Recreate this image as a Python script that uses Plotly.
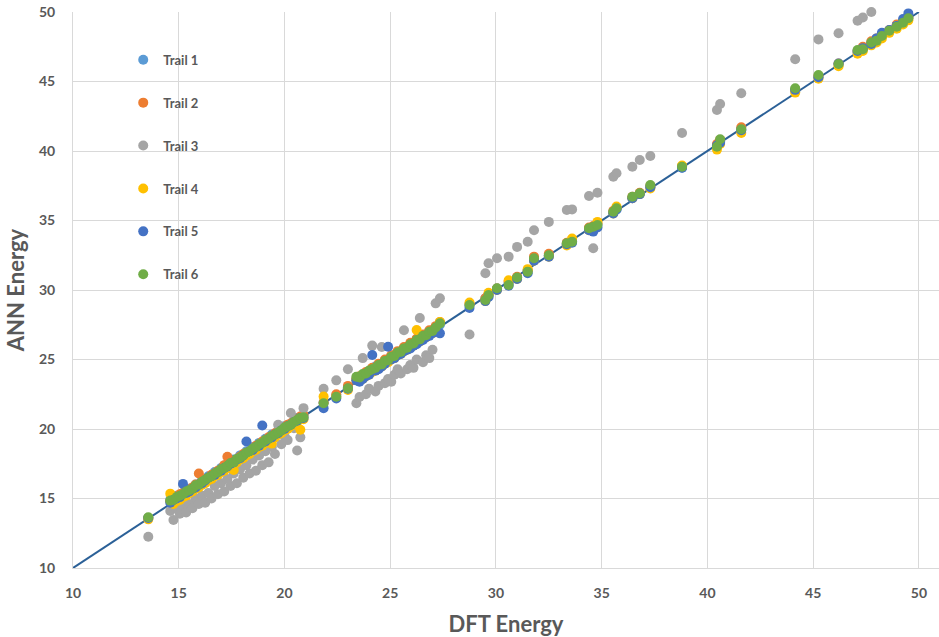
import plotly.graph_objects as go

# DFT reference energies (shared test set for all trails)
dft = [
    13.56, 14.60, 14.75, 14.90, 15.05, 15.20, 15.35, 15.50, 15.65, 15.80, 15.95,
    16.10, 16.25, 16.40, 16.55, 16.70, 16.85, 17.00, 17.15, 17.30, 17.45, 17.60,
    17.75, 17.90, 18.05, 18.20, 18.35, 18.50, 18.65, 18.80, 18.95, 19.10, 19.25,
    19.40, 19.55, 19.70, 19.85, 20.00, 20.15, 20.30, 20.45, 20.60, 20.75, 20.90,
    21.85, 22.45, 23.00, 23.40, 23.55, 23.70, 23.85, 24.00, 24.15, 24.30, 24.45,
    24.60, 24.75, 24.90, 25.05, 25.20, 25.35, 25.50, 25.65, 25.80, 25.95, 26.10,
    26.25, 26.40, 26.55, 26.70, 26.85, 27.00, 27.15, 27.35,
    28.75, 29.50, 29.65, 30.05, 30.60, 31.00, 31.50, 31.80, 32.50, 33.35, 33.60,
    34.40, 34.60, 34.80, 35.55, 35.70, 36.45, 36.80, 37.30, 38.80,
    40.45, 40.60, 41.60, 44.15, 45.25, 46.20, 47.10, 47.35, 47.75, 48.00, 48.25,
    48.60, 48.95, 49.25, 49.50,
]

# ANN predicted energies, one list per training trail
trail_1 = [
    13.6, 14.9, 14.8, 15.2, 15.1, 15.4, 15.4, 15.7, 15.6, 16.0, 15.9,
    16.3, 16.2, 16.6, 16.5, 16.9, 16.8, 17.2, 17.1, 17.5, 17.4, 17.8,
    17.7, 18.1, 18.0, 18.4, 18.3, 18.7, 18.6, 19.0, 18.9, 19.3, 19.2,
    19.6, 19.5, 19.9, 19.8, 20.2, 20.1, 20.4, 20.4, 20.8, 20.7, 21.0,
    21.9, 22.4, 23.0, 23.6, 23.6, 23.8, 24.0, 24.1, 24.2, 24.5, 24.5,
    24.7, 24.8, 25.0, 25.1, 25.3, 25.4, 25.6, 25.7, 25.9, 26.0, 26.2,
    26.3, 26.5, 26.6, 26.8, 26.9, 27.1, 27.2, 27.5,
    28.9, 29.4, 29.6, 30.1, 30.5, 30.9, 31.4, 32.2, 32.5, 33.3, 33.5,
    34.4, 34.5, 34.7, 35.6, 35.8, 36.6, 36.9, 37.4, 38.8,
    40.4, 40.7, 41.6, 44.3, 45.3, 46.2, 47.1, 47.4, 47.8, 48.0, 48.3,
    48.6, 49.0, 49.3, 49.6,
]
trail_2 = [
    13.6, 14.8, 15.0, 15.0, 15.3, 15.4, 15.5, 15.6, 15.8, 16.0, 16.8,
    16.2, 16.4, 16.4, 16.7, 16.8, 17.0, 17.1, 17.4, 18.0, 17.5, 17.7,
    17.8, 18.0, 18.2, 18.3, 18.4, 18.5, 18.8, 18.9, 19.1, 19.2, 19.4,
    19.5, 19.7, 19.8, 19.9, 20.1, 20.3, 20.4, 20.6, 20.7, 20.9, 21.0,
    21.9, 22.5, 23.1, 23.6, 23.8, 23.8, 24.1, 24.1, 24.4, 24.4, 24.7,
    24.7, 25.0, 25.0, 25.3, 25.3, 25.6, 25.5, 25.9, 25.9, 26.2, 26.2,
    26.5, 26.5, 26.8, 26.8, 27.1, 27.1, 27.4, 27.7,
    29.0, 29.4, 29.7, 30.1, 30.6, 30.95, 31.4, 32.4, 32.6, 33.4, 33.6,
    34.5, 34.6, 34.8, 35.7, 35.9, 36.7, 37.0, 37.5, 38.9,
    40.5, 40.8, 41.7, 44.4, 45.4, 46.3, 47.2, 47.5, 47.9, 48.1, 48.4,
    48.7, 49.1, 49.3, 49.6,
]
trail_3 = [
    12.25, 14.1, 13.45, 14.3, 13.9, 14.5, 14.0, 14.6, 14.3, 15.0, 14.6,
    15.2, 14.7, 15.4, 15.0, 15.9, 15.3, 16.1, 15.5, 16.4, 15.9, 16.8,
    16.1, 17.1, 16.5, 17.4, 16.8, 17.8, 17.0, 18.1, 17.4, 18.4, 17.6,
    18.7, 18.2, 20.3, 18.9, 19.5, 19.2, 21.15, 20.05, 18.45, 19.4, 21.5,
    22.9, 23.5, 24.3, 21.85, 22.3, 25.1, 22.5, 22.9, 26.0, 22.7, 23.1,
    25.9, 23.3, 23.6, 23.4, 23.9, 24.3, 24.0, 27.1, 24.3, 24.6, 24.4,
    25.0, 27.99, 24.8, 25.3, 25.1, 25.7, 29.04, 29.4,
    26.8, 31.2, 31.92, 32.28, 32.4, 33.1, 33.47, 34.3, 34.9, 35.75, 35.8,
    36.76, 33.0, 37.0, 38.15, 38.4, 38.87, 39.35, 39.64, 41.3,
    42.95, 43.38, 44.15, 46.6, 48.03, 48.47, 49.37, 49.6, 50.0, 48.1, 48.3,
    48.6, 49.0, 49.2, 49.5,
]
trail_4 = [
    13.5, 15.35, 14.6, 14.8, 14.9, 15.1, 15.2, 15.4, 15.5, 15.7, 15.8,
    16.0, 16.1, 16.3, 16.4, 16.6, 16.7, 16.9, 17.0, 17.2, 17.3, 17.05,
    17.6, 17.8, 17.9, 18.1, 18.2, 18.4, 18.5, 18.7, 18.8, 19.0, 19.1,
    18.95, 19.4, 19.6, 19.7, 19.9, 20.0, 20.2, 20.3, 20.5, 19.95, 20.7,
    22.33, 22.3, 22.8, 23.5, 23.5, 23.6, 23.8, 23.9, 24.1, 24.2, 24.4,
    24.5, 24.7, 24.8, 25.0, 25.1, 25.3, 25.4, 25.6, 25.7, 25.9, 26.0,
    27.12, 26.3, 26.5, 26.6, 26.8, 26.9, 27.1, 27.7,
    29.1, 29.2, 29.8, 30.0, 30.7, 30.8, 31.5, 32.1, 32.4, 33.2, 33.7,
    34.3, 34.5, 34.9, 35.5, 36.0, 36.6, 36.9, 37.3, 38.95,
    40.1, 40.5, 41.3, 44.2, 45.2, 46.1, 47.0, 47.2, 47.6, 47.8, 48.1,
    48.5, 48.8, 49.1, 49.4,
]
trail_5 = [
    13.6, 14.7, 14.9, 15.0, 15.1, 16.05, 15.4, 15.5, 15.7, 15.8, 16.0,
    16.1, 16.3, 16.5, 16.6, 16.7, 16.9, 17.0, 17.2, 17.3, 17.5, 17.6,
    17.8, 17.9, 18.1, 19.1, 18.4, 18.5, 18.7, 18.8, 20.25, 19.1, 19.3,
    19.4, 19.6, 19.7, 19.9, 20.0, 20.2, 20.3, 20.5, 20.6, 20.8, 20.8,
    21.5, 22.2, 22.9, 23.5, 23.4, 23.6, 23.8, 23.9, 25.32, 24.2, 24.3,
    24.5, 24.7, 25.92, 25.0, 25.1, 25.3, 25.4, 25.6, 25.7, 25.8, 26.0,
    26.1, 26.3, 26.4, 26.6, 26.7, 26.9, 27.0, 26.88,
    28.7, 29.2, 29.5, 30.0, 30.3, 30.8, 31.2, 32.1, 32.4, 33.3, 33.4,
    34.3, 34.2, 34.5, 35.5, 35.8, 36.6, 36.9, 37.4, 38.8,
    40.4, 40.6, 41.5, 44.4, 45.3, 46.3, 47.2, 47.4, 47.7, 48.1, 48.5,
    48.7, 49.0, 49.5, 49.9,
]
trail_6 = [
    13.65, 14.85, 14.9, 15.1, 15.2, 15.3, 15.5, 15.6, 15.7, 15.95, 16.0,
    16.2, 16.35, 16.5, 16.6, 16.8, 16.9, 17.1, 17.2, 17.35, 17.55, 17.6,
    17.85, 17.95, 18.1, 18.3, 18.4, 18.6, 18.7, 18.9, 19.0, 19.2, 19.3,
    19.5, 19.6, 19.75, 19.9, 20.1, 20.2, 20.3, 20.5, 20.65, 20.8, 20.85,
    21.85, 22.32, 22.93, 23.76, 23.7, 23.95, 24.0, 24.2, 24.3, 24.4, 24.6,
    24.65, 24.9, 24.95, 25.2, 25.25, 25.5, 25.55, 25.8, 25.85, 26.1, 26.15,
    26.4, 26.45, 26.7, 26.75, 27.0, 27.05, 27.3, 27.6,
    28.92, 29.28, 29.64, 30.12, 30.36, 30.9, 31.32, 32.28, 32.5, 33.36, 33.47,
    34.44, 34.55, 34.68, 35.63, 35.88, 36.71, 36.96, 37.55, 38.87,
    40.31, 40.84, 41.56, 44.51, 45.47, 46.26, 47.27, 47.32, 47.8, 47.94, 48.27,
    48.65, 48.94, 49.23, 49.55,
]

trail_names = ["Trail 1", "Trail 2", "Trail 3", "Trail 4", "Trail 5", "Trail 6"]
trail_values = [trail_1, trail_2, trail_3, trail_4, trail_5, trail_6]
trail_colors = ["#5B9BD5", "#ED7D31", "#A5A5A5", "#FFC000", "#4472C4", "#70AD47"]

# ideal y = x reference line
parity_x = [10, 50]
parity_y = [10, 50]

x_ticks = [10, 15, 20, 25, 30, 35, 40, 45, 50]
y_ticks = [10, 15, 20, 25, 30, 35, 40, 45, 50]

text_grey = "#595959"
grid_grey = "#D9D9D9"
font_family = "Lato, 'Open Sans', sans-serif"

fig = go.Figure()

fig.add_trace(go.Scatter(
    x=parity_x, y=parity_y, mode="lines",
    line=dict(color="#2B6097", width=2),
    showlegend=False, hoverinfo="skip", cliponaxis=False,
))

for name, vals, col in zip(trail_names, trail_values, trail_colors):
    fig.add_trace(go.Scatter(
        x=dft, y=vals, mode="markers", name=name, legendgroup=name,
        marker=dict(size=10, color=col, line=dict(width=0)),
        cliponaxis=False,
    ))

# white panel behind the legend, above the gridlines
fig.add_shape(
    type="rect", xref="paper", yref="paper",
    x0=0.045, x1=0.1755, y0=0.4946, y1=0.9676,
    fillcolor="white", line=dict(width=0), layer="between",
)

fig.update_layout(
    width=939, height=637,
    margin=dict(l=73, r=0, t=12, b=69, autoexpand=False),
    paper_bgcolor="white", plot_bgcolor="white",
    font=dict(family=font_family, color=text_grey),
    legend=dict(
        x=0.058, y=0.941, xanchor="left", yanchor="top",
        bgcolor="rgba(255,255,255,0)", borderwidth=0,
        font=dict(size=13, color=text_grey, family=font_family, weight="bold"),
        tracegroupgap=23, itemsizing="trace",
    ),
)

fig.update_xaxes(
    range=[10, 50.95], tickvals=x_ticks, ticks="",
    showgrid=True, gridcolor=grid_grey, gridwidth=1,
    showline=True, linecolor=grid_grey, linewidth=1,
    zeroline=False, ticklabelstandoff=12,
    tickfont=dict(size=14, color=text_grey, family=font_family, weight="bold"),
    title=dict(text="DFT Energy", standoff=16,
               font=dict(size=22, color=text_grey, family=font_family, weight="bold")),
)
fig.update_yaxes(
    range=[10, 50], tickvals=y_ticks, ticks="",
    showgrid=True, gridcolor=grid_grey, gridwidth=1,
    showline=True, linecolor=grid_grey, linewidth=1,
    zeroline=False, ticklabelstandoff=14,
    tickfont=dict(size=14, color=text_grey, family=font_family, weight="bold"),
    title=dict(text="ANN Energy", standoff=8,
               font=dict(size=22, color=text_grey, family=font_family, weight="bold")),
)

fig.write_html("out.html")
